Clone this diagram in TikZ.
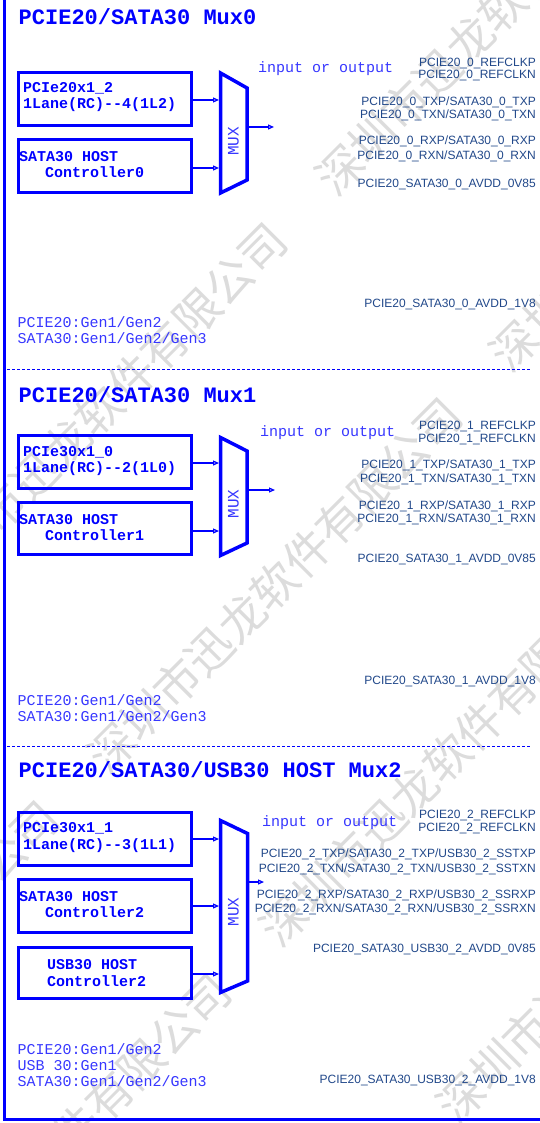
\documentclass[tikz,border=0pt]{standalone}
\usepackage{fontspec}
\setmainfont{Liberation Sans}
\newfontfamily\monof{Liberation Mono}
\newfontfamily\cjkf{Noto Sans CJK SC}
\usetikzlibrary{arrows.meta}
\definecolor{pblue}{RGB}{0,0,255}
\definecolor{lblue}{RGB}{55,55,255}
\definecolor{sigblue}{RGB}{33,72,138}
\definecolor{wm}{RGB}{220,220,220}
\begin{document}
\begin{tikzpicture}[x=1pt,y=-1pt,
  box/.style={draw=pblue,line width=3pt,minimum width=173pt,minimum height=53pt,inner sep=0pt},
  muxshape/.style={draw=pblue,line width=3.5pt,line join=miter},
  arr/.style={draw=pblue,line width=1.2pt,-{Triangle[open,length=6pt,width=5pt]}},
  ttl/.style={anchor=base west,inner sep=0pt,text=pblue,font=\monof\bfseries\fontsize{22}{22}\selectfont},
  boxtxt/.style={anchor=base west,inner sep=0pt,text=pblue,font=\monof\bfseries\fontsize{15}{15}\selectfont},
  lite/.style={anchor=base west,inner sep=0pt,text=lblue,font=\monof\fontsize{15}{15}\selectfont},
  sig/.style={anchor=base east,inner sep=0pt,text=sigblue,font=\fontsize{12}{12}\selectfont},
  muxlbl/.style={rotate=90,inner sep=0pt,text=lblue,font=\monof\fontsize{16}{16}\selectfont},
  dashsep/.style={draw=pblue,line width=0.8pt,dash pattern=on 3pt off 2pt},
  frame/.style={draw=pblue,line width=3pt},
  wmk/.style={rotate=45,text=wm,inner sep=0pt,font=\cjkf\fontsize{46}{46}\selectfont}
]
\fill[white] (0,0) rectangle (540,1123);
\useasboundingbox (0,0) rectangle (540,1123);

% watermark
\node[wmk] (w1) at (99.5,410.5) {深圳市迅龙软件有限公司};
\node[wmk] (w2) at (502.5,7.5) {深圳市迅龙软件有限公司};
\node[wmk] (w3) at (274.5,585.5) {深圳市迅龙软件有限公司};
\node[wmk] (w4) at (677,183) {深圳市迅龙软件有限公司};
\node[wmk] (w5) at (-128,988) {深圳市迅龙软件有限公司};
\node[wmk] (w6) at (447,758) {深圳市迅龙软件有限公司};
\node[wmk] (w7) at (44,1161) {深圳市迅龙软件有限公司};
\node[wmk] (w8) at (624,935) {深圳市迅龙软件有限公司};

% frame
\draw[frame] (4.5,-5) -- (4.5,1119.5) -- (545,1119.5);
\coordinate (d1a) at (7,369); \coordinate (d1b) at (530,369);
\coordinate (d2a) at (7,746); \coordinate (d2b) at (530,746);
\draw[dashsep] (d1a) -- (d1b);
\draw[dashsep] (d2a) -- (d2b);

% ---------- Section 0 ----------
\node[ttl] (t0) at (18.5,25) {PCIE20/SATA30 Mux0};
\node[box] (a0) at (105,99) {};
\node[box] (b0) at (105,166) {};
\node[boxtxt] (a0t1) at (23,92.3) {PCIe20x1\_2};
\node[boxtxt] (a0t2) at (23,108.8) {1Lane(RC)-{}-4(1L2)};
\node[boxtxt] (b0t1) at (19,161.3) {SATA30 HOST};
\node[boxtxt] (b0t2) at (45,177.6) {Controller0};
\draw[muxshape] (220.5,73) -- (247,88) -- (247,180) -- (220.5,193) -- cycle;
\node[muxlbl] (m0) at (233.5,141.5) {MUX};
\coordinate (m0i1) at (219,100);
\coordinate (m0i2) at (219,168);
\coordinate (m0o) at (247,127);
\coordinate (o0) at (274,127);
\draw[arr] (a0.east |- m0i1) -- (m0i1);
\draw[arr] (b0.east |- m0i2) -- (m0i2);
\draw[arr] (m0o) -- (o0);
\node[lite] (io0) at (258,73) {input or output};
\node[sig] (s0a) at (536,66.3) {PCIE20\_0\_REFCLKP};
\node[sig] (s0b) at (536,78.6) {PCIE20\_0\_REFCLKN};
\node[sig] (s0c) at (536,106) {PCIE20\_0\_TXP/SATA30\_0\_TXP};
\node[sig] (s0d) at (536,118.3) {PCIE20\_0\_TXN/SATA30\_0\_TXN};
\node[sig] (s0e) at (536,144.3) {PCIE20\_0\_RXP/SATA30\_0\_RXP};
\node[sig] (s0f) at (536,159.3) {PCIE20\_0\_RXN/SATA30\_0\_RXN};
\node[sig] (s0g) at (536,187.6) {PCIE20\_SATA30\_0\_AVDD\_0V85};
\node[sig] (s0h) at (536,307.6) {PCIE20\_SATA30\_0\_AVDD\_1V8};
\node[lite] (g0a) at (17.5,327.6) {PCIE20:Gen1/Gen2};
\node[lite] (g0b) at (17.5,343.6) {SATA30:Gen1/Gen2/Gen3};

% ---------- Section 1 ----------
\node[ttl] (t1) at (18.5,402) {PCIE20/SATA30 Mux1};
\node[box] (a1) at (105,462) {};
\node[box,minimum height=52pt] (b1) at (105,528.5) {};
\node[boxtxt] (a1t1) at (23,456.5) {PCIe30x1\_0};
\node[boxtxt] (a1t2) at (23,472.5) {1Lane(RC)-{}-2(1L0)};
\node[boxtxt] (b1t1) at (19,524.5) {SATA30 HOST};
\node[boxtxt] (b1t2) at (45,540.5) {Controller1};
\draw[muxshape] (220.5,437.5) -- (247,451) -- (247,543) -- (220.5,555.5) -- cycle;
\node[muxlbl] (m1) at (233.5,504) {MUX};
\coordinate (m1i1) at (219,463);
\coordinate (m1i2) at (219,531);
\coordinate (m1o) at (247,490);
\coordinate (o1) at (275,490);
\draw[arr] (a1.east |- m1i1) -- (m1i1);
\draw[arr] (b1.east |- m1i2) -- (m1i2);
\draw[arr] (m1o) -- (o1);
\node[lite] (io1) at (260,436.5) {input or output};
\node[sig] (s1a) at (536,429.3) {PCIE20\_1\_REFCLKP};
\node[sig] (s1b) at (536,442.3) {PCIE20\_1\_REFCLKN};
\node[sig] (s1c) at (536,468.3) {PCIE20\_1\_TXP/SATA30\_1\_TXP};
\node[sig] (s1d) at (536,482.3) {PCIE20\_1\_TXN/SATA30\_1\_TXN};
\node[sig] (s1e) at (536,509.3) {PCIE20\_1\_RXP/SATA30\_1\_RXP};
\node[sig] (s1f) at (536,522.3) {PCIE20\_1\_RXN/SATA30\_1\_RXN};
\node[sig] (s1g) at (536,562.3) {PCIE20\_SATA30\_1\_AVDD\_0V85};
\node[sig] (s1h) at (536,684.3) {PCIE20\_SATA30\_1\_AVDD\_1V8};
\node[lite] (g1a) at (17.5,705.3) {PCIE20:Gen1/Gen2};
\node[lite] (g1b) at (17.5,721.3) {SATA30:Gen1/Gen2/Gen3};

% ---------- Section 2 ----------
\node[ttl] (t2) at (18.5,777) {PCIE20/SATA30/USB30 HOST Mux2};
\node[box] (a2) at (105,839) {};
\node[box] (b2) at (105,906) {};
\node[box,minimum height=51pt] (c2) at (105,973) {};
\node[boxtxt] (a2t1) at (23,832.5) {PCIe30x1\_1};
\node[boxtxt] (a2t2) at (23,849) {1Lane(RC)-{}-3(1L1)};
\node[boxtxt] (b2t1) at (19,901.5) {SATA30 HOST};
\node[boxtxt] (b2t2) at (45,917.5) {Controller2};
\node[boxtxt] (c2t1) at (47,969.5) {USB30 HOST};
\node[boxtxt] (c2t2) at (47,986) {Controller2};
\draw[muxshape] (220.5,820.5) -- (247.5,833.5) -- (247.5,981) -- (220.5,992.5) -- cycle;
\node[muxlbl] (m2) at (233.5,912) {MUX};
\coordinate (m2i1) at (219,839);
\coordinate (m2i2) at (219,906);
\coordinate (m2i3) at (219,974);
\coordinate (m2o) at (247.5,882);
\coordinate (o2) at (264,882);
\draw[arr] (a2.east |- m2i1) -- (m2i1);
\draw[arr] (b2.east |- m2i2) -- (m2i2);
\draw[arr] (c2.east |- m2i3) -- (m2i3);
\draw[arr] (m2o) -- (o2);
\node[lite] (io2) at (262,826) {input or output};
\node[sig] (s2a) at (536,818.3) {PCIE20\_2\_REFCLKP};
\node[sig] (s2b) at (536,831.3) {PCIE20\_2\_REFCLKN};
\node[sig] (s2c) at (536,857.3) {PCIE20\_2\_TXP/SATA30\_2\_TXP/USB30\_2\_SSTXP};
\node[sig] (s2d) at (536,872.3) {PCIE20\_2\_TXN/SATA30\_2\_TXN/USB30\_2\_SSTXN};
\node[sig] (s2e) at (536,898.3) {PCIE20\_2\_RXP/SATA30\_2\_RXP/USB30\_2\_SSRXP};
\node[sig] (s2f) at (536,912.3) {PCIE20\_2\_RXN/SATA30\_2\_RXN/USB30\_2\_SSRXN};
\node[sig] (s2g) at (536,952.3) {PCIE20\_SATA30\_USB30\_2\_AVDD\_0V85};
\node[sig] (s2h) at (536,1083.3) {PCIE20\_SATA30\_USB30\_2\_AVDD\_1V8};
\node[lite] (g2a) at (17.5,1054.3) {PCIE20:Gen1/Gen2};
\node[lite] (g2b) at (17.5,1070.3) {USB 30:Gen1};
\node[lite] (g2c) at (17.5,1086.3) {SATA30:Gen1/Gen2/Gen3};
\end{tikzpicture}
\end{document}
